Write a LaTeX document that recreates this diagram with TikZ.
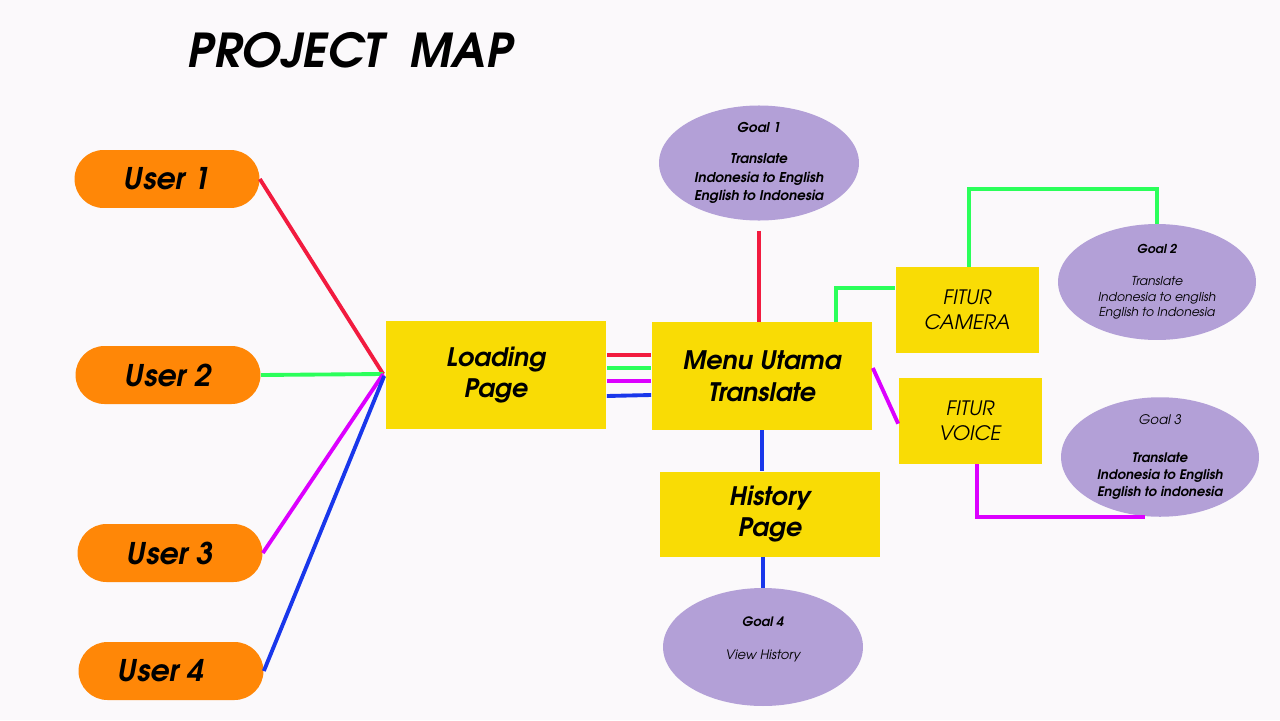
\documentclass[tikz,border=0pt]{standalone}
\usepackage{fontspec}
\setmainfont{texgyreadventor}[Extension=.otf, UprightFont=*-regular, BoldFont=*-bold, ItalicFont=*-italic, BoldItalicFont=*-bolditalic]
\usetikzlibrary{positioning}
\usetikzlibrary{shapes.geometric}

\definecolor{pagebg}{RGB}{251,249,251}
\definecolor{userorange}{RGB}{255,135,7}
\definecolor{pageyellow}{RGB}{249,220,5}
\definecolor{goalviolet}{RGB}{179,160,215}
\definecolor{linkred}{RGB}{242,27,63}
\definecolor{linkgreen}{RGB}{43,255,90}
\definecolor{linkmagenta}{RGB}{220,0,255}
\definecolor{linkblue}{RGB}{25,55,235}

\tikzset{
    userbox/.style={fill=userorange, rounded corners=0.58cm, minimum width=3.7cm, minimum height=1.16cm, font=\fontsize{17}{20}\selectfont\bfseries\itshape},
    pagebox/.style={fill=pageyellow, align=center, minimum width=4.42cm, minimum height=2.16cm, font=\fontsize{14.5}{18}\selectfont\bfseries\itshape},
    featbox/.style={fill=pageyellow, align=center, minimum width=2.86cm, minimum height=1.72cm, font=\fontsize{11.3}{14.2}\selectfont\itshape},
    goal/.style={ellipse, fill=goalviolet, align=center, inner sep=0pt, minimum width=4cm, minimum height=2.3cm, font=\fontsize{7}{9}\selectfont\itshape},
    link/.style={line width=2.2pt}
}

\begin{document}
\begin{tikzpicture}[x=0.02cm, y=-0.02cm]
    %background
    \fill[pagebg] (0,0) rectangle (1280,720);
    %Title
    \node[font=\fontsize{26.6}{32}\selectfont\bfseries\itshape] (title) at (350,50) {PROJECT\ \ MAP};
    %Users
    \node[userbox] (user1) at (167,179) {User 1};
    \node[userbox] (user2) at (168,375) {User 2};
    \node[userbox] (user3) at (170,553) {User 3};
    \node[userbox] (user4) at (171,671) {User 4\hspace*{0.4cm}};
    %Loading
    \node[pagebox] (loading) at (496,375) {Loading\\Page};
    \coordinate (hub) at ([shift={(-2,-1)}]loading.west);
    %Menu
    \node[pagebox] (menu) at (762,376) {Menu Utama\\Translate};
    %History
    \node[pagebox, minimum height=1.7cm] (history) at (770,514) {History\\Page};
    %Fitur
    \node[featbox] (camera) at (967,310) {FITUR\\CAMERA};
    \node[featbox, below=0.48cm of camera, xshift=0.06cm] (voice) {FITUR\\VOICE};
    %Goals
    \node[goal, minimum height=2.2cm, font=\fontsize{7.7}{10.6}\selectfont\bfseries\itshape] (goal1) at (759,163) {Goal 1\\[7pt]Translate\\Indonesia to English\\English to Indonesia};
    \node[goal, minimum width=3.96cm, minimum height=2.32cm] (goal2) at (1157,282) {\textbf{Goal 2}\\[9pt]Translate\\Indonesia to english\\English to Indonesia};
    \node[goal, minimum width=3.96cm, font=\fontsize{7.5}{9.6}\selectfont\itshape] (goal3) at (1160,457) {Goal 3\\[12pt]\textbf{Translate}\\\textbf{Indonesia to English}\\\textbf{English to indonesia}};
    \node[goal, minimum height=2.36cm, font=\fontsize{7.4}{9}\selectfont\itshape] (goal4) at (763,647) {\textbf{Goal 4}\\[10pt]View History\\[1pt]\mbox{}};

    %Users - Loading
    \draw[link, linkred] (user1.east) -- (hub);
    \draw[link, linkgreen] (user2.east) -- (hub);
    \draw[link, linkmagenta] (user3.east) -- (hub);
    \draw[link, linkblue] (user4.east) -- ([shift={(1,2)}]hub);
    %Loading - Menu
    \draw[link, linkred] ([shift={(0,-20)}]loading.east) -- ([shift={(0,-21)}]menu.west);
    \draw[link, linkgreen] ([shift={(0,-7)}]loading.east) -- ([shift={(0,-8)}]menu.west);
    \draw[link, linkmagenta] ([shift={(0,6)}]loading.east) -- ([shift={(0,5)}]menu.west);
    \draw[link, linkblue] ([shift={(0,21)}]loading.east) -- ([shift={(0,19)}]menu.west);
    %Goal 1 - Menu
    \draw[link, linkred] ([shift={(0,10)}]goal1.south) -- (menu.north -| goal1.south);
    %Menu - Camera
    \draw[link, linkgreen] ([shift={(-37,0)}]menu.north east) |- ([shift={(0,-22)}]camera.west);
    %Camera - Goal 2
    \draw[link, linkgreen] ([shift={(2,0)}]camera.north) -- ++(0,-78) -| (goal2.north);
    %Menu - Voice
    \draw[link, linkmagenta] ([shift={(0,-8)}]menu.east) -- ([shift={(0,3)}]voice.west);
    %Voice - Goal 3
    \draw[link, linkmagenta] ([shift={(7,0)}]voice.south) |- ([shift={(-15,0)}]goal3.south);
    %Menu - History
    \draw[link, linkblue] (menu.south) -- (menu.south |- history.north);
    %History - Goal 4
    \draw[link, linkblue] (goal4.north |- history.south) -- (goal4.north);
\end{tikzpicture}
\end{document}
